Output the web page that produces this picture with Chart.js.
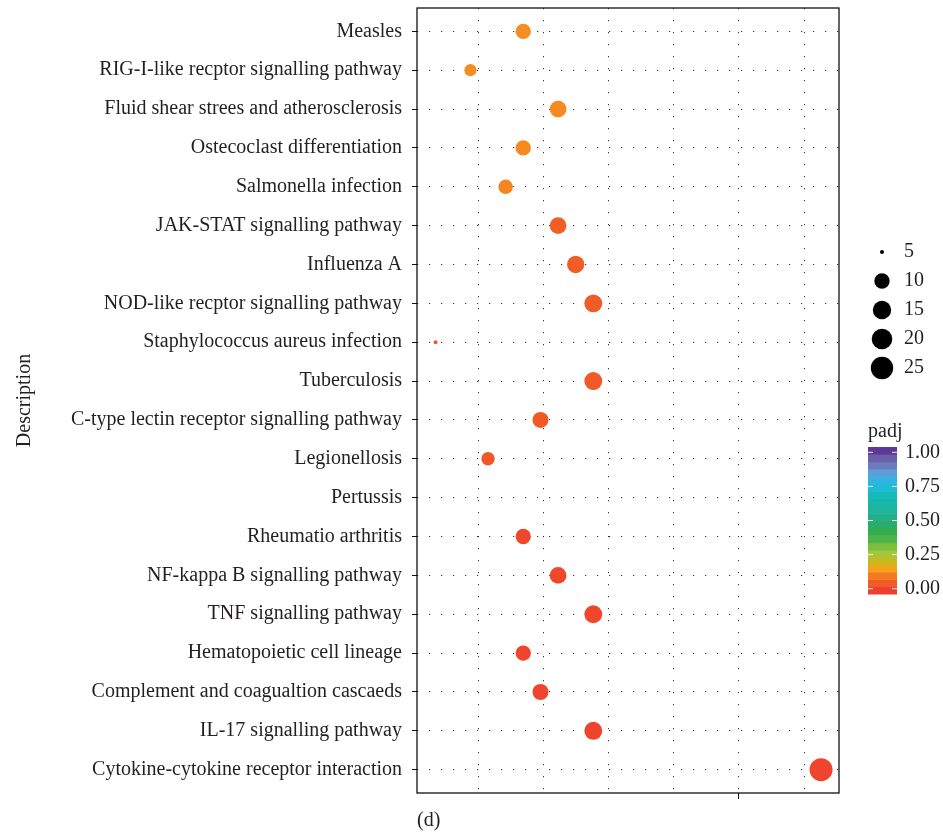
<!DOCTYPE html>
<html>
<head>
<meta charset="utf-8">
<script src="https://cdn.jsdelivr.net/npm/chart.js@4.4.1/dist/chart.umd.min.js"></script>
<style>
  html, body { margin: 0; padding: 0; background: #fff; }
</style>
</head>
<body>
<canvas id="dotplot" width="943" height="833"></canvas>
<script>
// pathway terms, top to bottom
var categories = [
  "Measles",
  "RIG-I-like recptor signalling pathway",
  "Fluid shear strees and atherosclerosis",
  "Ostecoclast differentiation",
  "Salmonella infection",
  "JAK-STAT signalling pathway",
  "Influenza A",
  "NOD-like recptor signalling pathway",
  "Staphylococcus aureus infection",
  "Tuberculosis",
  "C-type lectin receptor signalling pathway",
  "Legionellosis",
  "Pertussis",
  "Rheumatio arthritis",
  "NF-kappa B signalling pathway",
  "TNF signalling pathway",
  "Hematopoietic cell lineage",
  "Complement and coagualtion cascaeds",
  "IL-17 signalling pathway",
  "Cytokine-cytokine receptor interaction"
];
var geneRatio = [0.0538, 0.0376, 0.0645, 0.0538, 0.0484, 0.0645, 0.0699, 0.0753, 0.0269, 0.0753,
                 0.0591, 0.0430, null, 0.0538, 0.0645, 0.0753, 0.0538, 0.0591, 0.0753, 0.1452];
var counts = [10, 7, 12, 10, 9, 12, 13, 14, 5, 14, 11, 8, null, 10, 12, 14, 10, 11, 14, 27];
var padj = [0.15, 0.15, 0.145, 0.145, 0.14, 0.08, 0.078, 0.075, 0.075, 0.072,
            0.07, 0.068, null, 0.04, 0.04, 0.038, 0.036, 0.035, 0.033, 0.035];

var xGrid = [0.04, 0.06, 0.08, 0.10, 0.12, 0.14];
var sizeBreaks = [5, 10, 15, 20, 25];
var padjTicks = [1.00, 0.75, 0.50, 0.25, 0.00];

// colour bar bands, padj 0 -> 1
var palette = ['#EE3E2F', '#F15B25', '#F47A22', '#F4A21E', '#C9B91B', '#A3C63A', '#7CBE3F', '#4CB448',
               '#34AE4C', '#2AAC6A', '#22B08A', '#1CB49C', '#16B6A8', '#13BAB8', '#1DBCD6', '#31B4E2',
               '#5C9ED8', '#6B7BC0', '#6A60A8', '#5E3895'];

var serif = "'Liberation Serif', 'DejaVu Serif', serif";
var textColor = '#231f20';

function hexRgb(h) {
  return [parseInt(h.substr(1, 2), 16), parseInt(h.substr(3, 2), 16), parseInt(h.substr(5, 2), 16)];
}
function padjColor(v) {
  var p = v / (1 / palette.length) - 0.5;
  p = Math.max(0, Math.min(palette.length - 1, p));
  var i = Math.floor(p), f = p - i;
  var a = hexRgb(palette[i]), b = hexRgb(palette[Math.min(i + 1, palette.length - 1)]);
  var c = a.map(function (x, k) { return Math.round(x + (b[k] - x) * f); });
  return 'rgb(' + c.join(',') + ')';
}
// size scale, count 5..27 -> diameter in px
function countDiameter(c) {
  var t = Math.max(0, (c - 5) / 22);
  return 4 + 19 * Math.pow(t, 0.35);
}

var points = categories.map(function (name, i) {
  return { x: geneRatio[i], y: i + 1 };
});

var legendPlugin = {
  id: 'sideLegends',
  beforeDatasetsDraw: function (chart) {
    var ctx = chart.ctx, a = chart.chartArea;
    ctx.save();
    ctx.strokeStyle = '#111';
    ctx.lineWidth = 1.3;
    ctx.strokeRect(a.left, a.top, a.right - a.left, a.bottom - a.top);
    ctx.restore();
  },
  afterDraw: function (chart) {
    var ctx = chart.ctx, a = chart.chartArea;
    ctx.save();
    ctx.font = '20px ' + serif;
    ctx.textBaseline = 'middle';
    ctx.textAlign = 'left';
    // size legend
    var cx = a.right + 43, y0 = 252, dy = 29;
    sizeBreaks.forEach(function (s, i) {
      var y = y0 + i * dy;
      ctx.fillStyle = '#000';
      ctx.beginPath();
      ctx.arc(cx, y, countDiameter(s) / 2, 0, Math.PI * 2);
      ctx.fill();
      ctx.fillStyle = textColor;
      ctx.fillText(String(s), a.right + 65, y);
    });
    // colour bar
    var bx = a.right + 29, bw = 29, top = 447, bh = 147;
    ctx.fillStyle = textColor;
    ctx.fillText('padj', bx, 432);
    var band = bh / palette.length;
    palette.forEach(function (col, i) {
      ctx.fillStyle = col;
      ctx.fillRect(bx, top + bh - (i + 1) * band, bw, band + 0.5);
    });
    var inset = 5.3;
    padjTicks.forEach(function (v) {
      var y = top + inset + (1 - v) * (bh - 2 * inset);
      ctx.strokeStyle = 'rgba(255,255,255,0.9)';
      ctx.lineWidth = 1;
      ctx.beginPath();
      ctx.moveTo(bx, y); ctx.lineTo(bx + 5, y);
      ctx.moveTo(bx + bw - 5, y); ctx.lineTo(bx + bw, y);
      ctx.stroke();
      ctx.fillStyle = textColor;
      ctx.fillText(v.toFixed(2), a.right + 66, y);
    });
    ctx.restore();
  }
};

var ctx = document.getElementById('dotplot').getContext('2d');
var dotplot = new Chart(ctx, {
  type: 'scatter',
  data: {
    datasets: [{
      data: points,
      pointRadius: function (c) { return counts[c.dataIndex] ? countDiameter(counts[c.dataIndex]) / 2 : 0; },
      pointBackgroundColor: function (c) { return padj[c.dataIndex] != null ? padjColor(padj[c.dataIndex]) : 'transparent'; },
      pointBorderWidth: 0,
      pointHoverRadius: function (c) { return counts[c.dataIndex] ? countDiameter(counts[c.dataIndex]) / 2 : 0; }
    }]
  },
  plugins: [legendPlugin],
  options: {
    responsive: false,
    animation: false,
    layout: { autoPadding: false, padding: { top: 8, right: 104, bottom: 0, left: 0 } },
    plugins: { legend: { display: false }, tooltip: { enabled: false } },
    scales: {
      x: {
        type: 'linear',
        min: 0.0212,
        max: 0.1507,
        afterBuildTicks: function (s) { s.ticks = xGrid.map(function (v) { return { value: v }; }); },
        afterFit: function (s) { s.height = 40; s.paddingLeft = 0; s.paddingRight = 0; },
        ticks: { display: false },
        grid: {
          color: '#333',
          lineWidth: 1,
          borderDash: [1.2, 10.8],
          tickLength: 6,
          tickBorderDash: [],
          tickColor: function (c) { return c.tick && c.tick.value === 0.12 ? '#111' : 'rgba(0,0,0,0)'; }
        },
        border: { display: false, dash: [1.2, 10.8] },
        title: {
          display: true, text: '(d)', align: 'start', color: textColor,
          font: { family: serif, size: 20 }, padding: { top: 0, bottom: 0 }
        }
      },
      y: {
        type: 'linear',
        reverse: true,
        min: 0.4,
        max: 20.6,
        afterBuildTicks: function (s) { s.ticks = categories.map(function (_, i) { return { value: i + 1 }; }); },
        afterFit: function (s) { s.width = 417; s.paddingTop = 0; s.paddingBottom = 0; },
        ticks: {
          autoSkip: false,
          padding: 10,
          color: textColor,
          font: { family: serif, size: 20 },
          callback: function (v, i) { return categories[i]; }
        },
        grid: {
          color: '#333',
          lineWidth: 1,
          borderDash: [1.2, 10.8],
          tickLength: 5,
          tickBorderDash: [],
          tickColor: '#111'
        },
        border: { display: false, dash: [1.2, 10.8] },
        title: {
          display: true, text: 'Description', color: textColor,
          font: { family: serif, size: 20 }, padding: { top: 13, bottom: 0 }
        }
      }
    }
  }
});
</script>
</body>
</html>
